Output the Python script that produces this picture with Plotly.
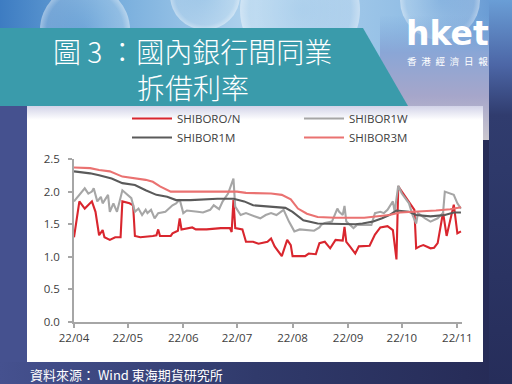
import base64
import plotly.graph_objects as go

# ---------------- data ----------------
on_dates = ["04-01","04-04","04-07","04-11","04-13","04-15","04-17","04-18","04-21","04-24","04-27","04-28",
            "05-02","05-04","05-05","05-08","05-15","05-17","05-18","05-19","05-25","05-26","05-29","05-30","05-31",
            "06-03","06-06","06-08","06-14","06-22","06-27","06-28","06-29","06-30",
            "07-04","07-06","07-10","07-13","07-18","07-20","07-22","07-26","07-29","07-31",
            "08-01","08-08","08-10","08-14","08-16","08-19","08-22","08-25","08-29","08-30","08-31",
            "09-02","09-05","09-07","09-11","09-13","09-16","09-19","09-23","09-26","09-28","09-29",
            "10-08","10-09","10-11","10-13","10-17","10-19","10-21","10-22","10-24","10-26","10-29","10-30",
            "11-01","11-03"]
on_vals = [1.30,1.85,1.74,1.85,1.69,1.33,1.41,1.30,1.26,1.30,1.30,1.85,
           1.82,1.79,1.32,1.30,1.32,1.33,1.42,1.32,1.32,1.36,1.40,1.59,1.42,
           1.44,1.45,1.42,1.42,1.44,1.44,1.38,1.87,1.44,
           1.42,1.23,1.23,1.20,1.23,1.28,1.16,1.01,1.26,1.18,
           1.01,1.01,1.05,1.04,1.21,1.23,1.13,1.26,1.25,1.46,1.23,
           1.16,1.05,1.16,1.16,1.17,1.34,1.45,1.47,1.41,0.96,2.08,
           1.72,1.13,1.16,1.18,1.13,1.14,1.21,1.35,1.68,1.32,1.72,1.80,
           1.36,1.39]

w1_dates = ["04-01","04-03","04-07","04-09","04-11","04-12","04-14","04-16","04-17","04-20","04-21","04-23","04-25","04-28","04-30",
            "05-03","05-05","05-07","05-09","05-11","05-12","05-14","05-16","05-18","05-22","05-24","05-26","05-28","05-30",
            "06-01","06-03","06-09","06-12","06-16","06-18","06-21","06-23","06-26","06-29","06-30",
            "07-03","07-06","07-09","07-14","07-17","07-20","07-23","07-26","07-27","07-30",
            "08-02","08-05","08-09","08-13","08-16","08-17","08-19","08-23","08-26","08-27","08-29","08-30","08-31",
            "09-02","09-04","09-06","09-10","09-14","09-16","09-19","09-21","09-23","09-26","09-27","09-29",
            "10-01","10-05","10-07","10-09","10-10","10-14","10-17","10-21","10-24","10-25","10-28","10-30",
            "11-01","11-03"]
w1_vals = [1.85,1.92,2.05,1.97,2.00,2.05,1.85,1.92,1.82,1.95,1.69,1.82,1.69,2.02,1.97,
           1.90,1.69,1.74,1.64,1.72,1.67,1.72,1.59,1.67,1.69,1.74,1.79,1.82,1.88,
           1.67,1.71,1.69,1.68,1.72,1.79,1.73,1.85,1.97,2.20,1.77,
           1.64,1.67,1.64,1.59,1.64,1.67,1.64,1.69,1.72,1.54,
           1.39,1.42,1.41,1.40,1.45,1.49,1.52,1.54,1.74,1.69,1.64,1.78,1.54,
           1.49,1.44,1.49,1.49,1.49,1.67,1.69,1.67,1.72,1.85,1.69,2.09,
           1.97,1.82,1.64,1.51,1.67,1.59,1.54,1.59,1.67,2.00,1.97,1.95,
           1.82,1.74]

m1_dates = ["04-01","04-10","04-15","04-22","04-28","05-05","05-11","05-17","05-23","05-28",
            "06-05","06-10","06-20","06-29","07-05","07-10","07-20","07-28","08-01","08-07",
            "08-15","08-25","09-05","09-09","09-15","09-20","09-24","09-28","10-05","10-09",
            "10-17","10-25","10-30","11-03"]
m1_vals = [2.31,2.28,2.25,2.20,2.13,2.10,2.02,1.95,1.92,1.87,
           1.87,1.88,1.89,1.89,1.85,1.79,1.77,1.75,1.69,1.56,
           1.51,1.50,1.50,1.51,1.54,1.59,1.64,1.71,1.69,1.64,
           1.62,1.64,1.68,1.68]

m3_dates = ["04-01","04-10","04-15","04-21","04-28","05-06","05-11","05-15","05-19","05-25",
            "06-15","07-01","07-06","07-20","07-26","07-31","08-04","08-09","08-15","08-25",
            "09-10","09-17","09-24","09-30","10-10","10-20","10-28","11-03"]
m3_vals = [2.37,2.36,2.33,2.31,2.23,2.20,2.18,2.15,2.08,2.00,
           2.00,2.00,1.98,1.97,1.95,1.88,1.74,1.66,1.61,1.60,
           1.60,1.62,1.64,1.68,1.69,1.71,1.73,1.76]

series_names = ["SHIBORO/N", "SHIBOR1W", "SHIBOR1M", "SHIBOR3M"]
series_colors = ["#d9262e", "#a6a6a6", "#5a5a5a", "#ea7271"]
year = "2022-"

tick_dates = ["2022-04-01","2022-05-01","2022-06-01","2022-07-01","2022-08-01","2022-09-01","2022-10-01","2022-11-01"]
tick_text = ["22/04","22/05","22/06","22/07","22/08","22/09","22/10","22/11"]
y_ticks = [0.0, 0.5, 1.0, 1.5, 2.0, 2.5]

# ---------------- geometry ----------------
W, H = 512, 384
L, R, T, B = 74, 462, 159, 322   # plot area in pixels

def px(x):
    return (x - L) / (R - L)

def py(y):
    return (B - y) / (B - T)

# ---------------- background artwork (decoration) ----------------
svg = f"""<svg xmlns='http://www.w3.org/2000/svg' width='{W}' height='{H}' viewBox='0 0 {W} {H}'>
<defs>
<linearGradient id='bg' x1='0' y1='0' x2='1' y2='0'>
 <stop offset='0' stop-color='#45518f'/><stop offset='0.5' stop-color='#303a6b'/><stop offset='1' stop-color='#252a55'/></linearGradient>
<linearGradient id='sky' x1='0' y1='0' x2='1' y2='0'>
 <stop offset='0' stop-color='#3d7cc2'/><stop offset='0.2' stop-color='#72aadb'/><stop offset='0.5' stop-color='#b2d4ee'/>
 <stop offset='0.8' stop-color='#92bee5'/><stop offset='1' stop-color='#5f93d0'/></linearGradient>
<linearGradient id='fade' x1='0' y1='0' x2='0' y2='1'>
 <stop offset='0' stop-color='#7aa8da' stop-opacity='0'/><stop offset='0.3' stop-color='#8aa6d6'/>
 <stop offset='0.65' stop-color='#a6a6ca'/><stop offset='1' stop-color='#cac6ce'/></linearGradient>
<linearGradient id='rs' x1='0' y1='0' x2='0' y2='1'>
 <stop offset='0' stop-color='#6a9ed6'/><stop offset='0.17' stop-color='#4c66a6'/>
 <stop offset='0.3' stop-color='#303c6e'/><stop offset='1' stop-color='#262d5a'/></linearGradient>
<linearGradient id='sh' x1='0' y1='0' x2='0' y2='1'>
 <stop offset='0' stop-color='#d2d3e8'/><stop offset='1' stop-color='#ffffff'/></linearGradient>
<radialGradient id='bk' cx='0.5' cy='0.5' r='0.5'>
 <stop offset='0' stop-color='#ffffff' stop-opacity='0.05'/><stop offset='0.85' stop-color='#ffffff' stop-opacity='0.18'/>
 <stop offset='1' stop-color='#ffffff' stop-opacity='0.45'/></radialGradient>
</defs>
<rect width='{W}' height='{H}' fill='url(#bg)'/>
<rect width='{W}' height='112' fill='url(#sky)'/>
<circle cx='85' cy='30' r='45' fill='url(#bk)'/>
<circle cx='205' cy='-5' r='35' fill='url(#bk)'/>
<circle cx='300' cy='10' r='60' fill='url(#bk)'/>
<circle cx='440' cy='0' r='40' fill='url(#bk)'/>
<rect x='380' y='15' width='132' height='125' fill='url(#fade)'/>
<rect x='489' y='0' width='23' height='{H}' fill='url(#rs)'/>
<polygon points='0,28 363,28 408,106 0,106' fill='#3a9bab'/>
<rect x='0' y='106' width='27' height='256' fill='#45518f'/>
<rect x='27' y='106' width='456' height='256' fill='#ffffff'/>
<rect x='27' y='106' width='456' height='14' fill='url(#sh)'/>
</svg>"""
svg_uri = "data:image/svg+xml;base64," + base64.b64encode(svg.encode("utf-8")).decode("ascii")

# ---------------- figure ----------------
fig = go.Figure()
all_dates = [on_dates, w1_dates, m1_dates, m3_dates]
all_vals = [on_vals, w1_vals, m1_vals, m3_vals]
for name, color, d, v in zip(series_names, series_colors, all_dates, all_vals):
    fig.add_trace(go.Scatter(
        x=[year + s for s in d], y=v, name=name, mode="lines",
        line=dict(color=color, width=2.1), hoverinfo="skip"))

tick_font = dict(family="Open Sans, Noto Sans, sans-serif", size=11.5, color="#404040")

fig.update_layout(
    width=W, height=H,
    margin=dict(l=L, r=W - R, t=T, b=H - B, pad=0, autoexpand=False),
    paper_bgcolor="#2c3462",
    plot_bgcolor="rgba(0,0,0,0)",
    showlegend=True,
    legend=dict(
        orientation="h", xref="container", yref="container",
        x=127 / W, y=1 - 104 / H, xanchor="left", yanchor="top",
        entrywidth=117, entrywidthmode="pixels", itemwidth=40,
        font=tick_font, bgcolor="rgba(0,0,0,0)", tracegroupgap=0,
        traceorder="normal"),
    xaxis=dict(
        type="date", range=["2022-04-01", "2022-11-03 14:00"],
        tickmode="array", tickvals=tick_dates, ticktext=tick_text,
        showgrid=False, zeroline=False, showline=True, linecolor="#a6a6a6", linewidth=1.5,
        ticks="outside", ticklen=4, tickwidth=1.5, tickcolor="#a6a6a6",
        tickfont=tick_font, fixedrange=True),
    yaxis=dict(
        range=[0, 2.5], tickmode="array", tickvals=y_ticks,
        ticktext=[f"{t:.1f}" for t in y_ticks],
        showgrid=False, zeroline=False, showline=True, linecolor="#a6a6a6", linewidth=1.5,
        ticks="outside", ticklen=4, tickwidth=1.5, tickcolor="#a6a6a6",
        ticklabelstandoff=6, tickfont=tick_font, fixedrange=True),
    images=[dict(
        source=svg_uri, xref="paper", yref="paper",
        x=px(0), y=py(0), sizex=W / (R - L), sizey=H / (B - T),
        xanchor="left", yanchor="top", sizing="stretch", layer="below")],
)

title_font = dict(family="Noto Sans CJK TC, Noto Sans CJK SC, sans-serif", size=28,
                  color="#ffffff", weight=300)
annotations = [
    dict(text="圖 3 ：國內銀行間同業<br>\u3000\u3000\u3000拆借利率", x=px(51), y=py(68.5),
         xanchor="left", yanchor="middle", align="left", font=title_font),
    dict(text="<b>hket</b>", x=px(447), y=py(33), xanchor="center", yanchor="middle",
         font=dict(family="DejaVu Sans, sans-serif", size=33, color="#ffffff"), height=30),
    dict(text="香\u2002港\u2002經\u2002濟\u2002日\u2002報", x=px(447), y=py(61), xanchor="center",
         yanchor="middle",
         font=dict(family="Noto Sans CJK TC, sans-serif", size=9.5, color="#ffffff")),
    dict(text="資料來源： Wind 東海期貨研究所", x=px(28), y=py(374), xanchor="left", yanchor="middle",
         font=dict(family="Noto Sans CJK TC, sans-serif", size=13, color="#ffffff")),
]
for a in annotations:
    a.update(xref="paper", yref="paper", showarrow=False)
fig.update_layout(annotations=annotations)

fig.write_html("out.html", config={"displayModeBar": False},
               post_script="document.body.style.margin='0';document.body.style.padding='0';")
